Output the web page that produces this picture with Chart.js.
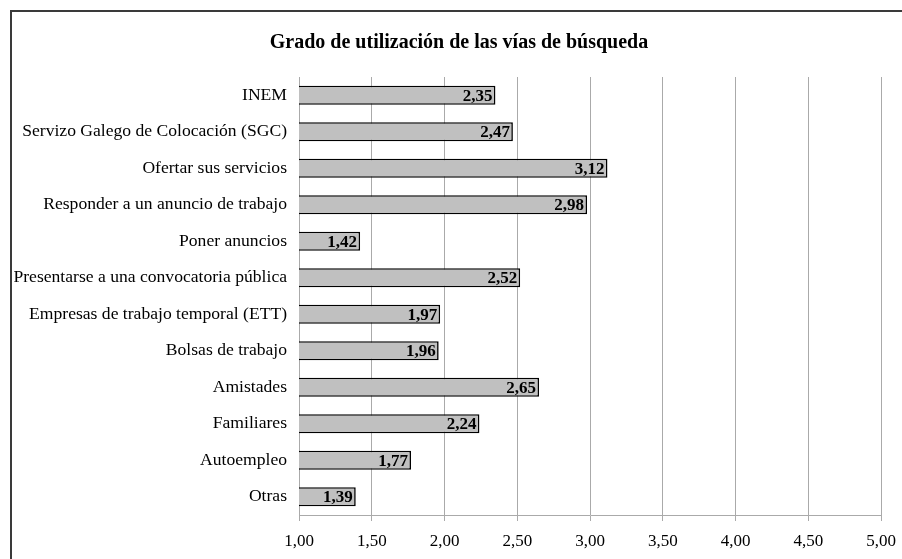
<!DOCTYPE html>
<html>
<head>
<meta charset="utf-8">
<script src="https://cdn.jsdelivr.net/npm/chart.js@4.4.1/dist/chart.umd.min.js"></script>
<style>
html,body{margin:0;padding:0;background:#fff;}
#wrap{position:relative;width:902px;height:559px;}
</style>
</head>
<body>
<div id="wrap"><canvas id="c" width="902" height="559"></canvas></div>
<script>
const chartTitle = "Grado de utilización de las vías de búsqueda";
const categories = [
  "INEM",
  "Servizo Galego de Colocación (SGC)",
  "Ofertar sus servicios",
  "Responder a un anuncio de trabajo",
  "Poner anuncios",
  "Presentarse a una convocatoria pública",
  "Empresas de trabajo temporal (ETT)",
  "Bolsas de trabajo",
  "Amistades",
  "Familiares",
  "Autoempleo",
  "Otras"
];
const values = [2.35, 2.47, 3.12, 2.98, 1.42, 2.52, 1.97, 1.96, 2.65, 2.24, 1.77, 1.39];
const xMin = 1, xMax = 5, xStep = 0.5;

const fmt = v => v.toFixed(2).replace('.', ',');
const SERIF = '"Liberation Serif", "Times New Roman", serif';

const framePlugin = {
  id: 'frame',
  beforeDraw(chart) {
    const ctx = chart.ctx;
    ctx.save();
    ctx.fillStyle = '#fff';
    ctx.fillRect(0, 0, chart.width, chart.height);
    ctx.strokeStyle = '#3a3a3a';
    ctx.lineWidth = 2;
    ctx.beginPath();
    ctx.moveTo(11, chart.height + 5);
    ctx.lineTo(11, 11);
    ctx.lineTo(chart.width + 5, 11);
    ctx.stroke();
    ctx.fillStyle = '#000';
    ctx.font = 'bold 20px ' + SERIF;
    ctx.textAlign = 'center';
    ctx.textBaseline = 'middle';
    ctx.fillText(chartTitle, 459, 43);
    ctx.restore();
  }
};

const valueLabels = {
  id: 'valueLabels',
  afterDatasetsDraw(chart) {
    const ctx = chart.ctx;
    const meta = chart.getDatasetMeta(0);
    ctx.save();
    ctx.fillStyle = '#000';
    ctx.font = 'bold 17px ' + SERIF;
    ctx.textAlign = 'right';
    ctx.textBaseline = 'middle';
    meta.data.forEach((bar, i) => {
      ctx.fillText(fmt(values[i]), bar.x - 3, bar.y + 1);
    });
    ctx.restore();
  }
};

new Chart(document.getElementById('c'), {
  type: 'bar',
  data: {
    labels: categories,
    datasets: [{
      data: values,
      backgroundColor: '#c0c0c0',
      borderColor: '#000000',
      borderWidth: 1.6,
      borderSkipped: false,
      barPercentage: 0.52,
      categoryPercentage: 1.0
    }]
  },
  options: {
    indexAxis: 'y',
    responsive: false,
    animation: false,
    layout: { padding: { top: 77, right: 21, left: 0, bottom: 0 } },
    plugins: { legend: { display: false }, title: { display: false }, tooltip: { enabled: false } },
    scales: {
      x: {
        min: xMin, max: xMax,
        ticks: {
          stepSize: xStep,
          color: '#000',
          font: { family: SERIF, size: 17 },
          padding: 10,
          maxRotation: 0,
          callback: v => fmt(v)
        },
        grid: { color: '#aaaaaa', lineWidth: 1, drawTicks: true, tickLength: 6, tickColor: '#aaaaaa' },
        border: { display: true, color: '#aaaaaa', width: 1 },
        afterFit(scale) { scale.height = 44; scale.paddingRight = 0; scale.paddingLeft = 0; }
      },
      y: {
        ticks: {
          color: '#000',
          font: { family: SERIF, size: 17.6 },
          padding: 12,
          autoSkip: false
        },
        grid: { display: false, drawTicks: false },
        border: { display: false },
        afterFit(scale) { scale.width = 299; scale.paddingTop = 0; scale.paddingBottom = 0; }
      }
    }
  },
  plugins: [framePlugin, valueLabels]
});
</script>
</body>
</html>
